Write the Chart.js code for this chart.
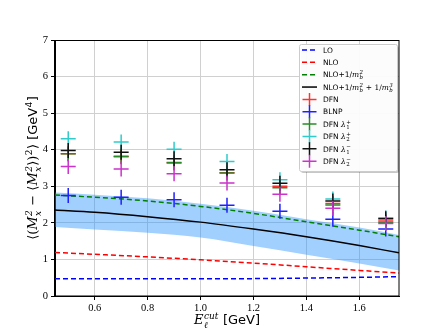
<!DOCTYPE html>
<html>
<head>
<meta charset="utf-8">
<script src="https://cdn.jsdelivr.net/npm/chart.js@4/dist/chart.umd.min.js"></script>
<style>
  html, body { margin: 0; padding: 0; background: #fff; }
  #wrap { width: 444px; height: 333px; }
</style>
</head>
<body>
<div id="wrap"><canvas id="c" width="444" height="333"></canvas></div>
<script>
// ---------------- data ----------------
const xTicks = [0.6, 0.8, 1.0, 1.2, 1.4, 1.6];
const yTicks = [0, 1, 2, 3, 4, 5, 6, 7];

// theory curves (sampled along E_cut)
const curveX = [0.45, 0.6, 0.8, 1.0, 1.2, 1.4, 1.6, 1.75];
const loVals = [0.47, 0.47, 0.47, 0.47, 0.475, 0.49, 0.51, 0.53];
const nloVals = [1.19, 1.14, 1.07, 0.99, 0.90, 0.80, 0.70, 0.63];
const nloMb2Vals = [2.76, 2.70, 2.60, 2.45, 2.26, 2.03, 1.80, 1.62];
const nloMb3Vals = [2.35, 2.29, 2.17, 2.02, 1.83, 1.62, 1.38, 1.18];
const bandUpper = [2.83, 2.77, 2.67, 2.52, 2.33, 2.10, 1.87, 1.67];
const bandLower = [1.89, 1.82, 1.73, 1.60, 1.37, 1.13, 0.89, 0.70];

// model points
const pointX = [0.5, 0.7, 0.9, 1.1, 1.3, 1.5, 1.7];
const dfnVals = [3.89, 3.81, 3.64, 3.37, 3.00, 2.53, 2.05];
const blnpVals = [2.75, 2.70, 2.63, 2.48, 2.32, 2.10, 1.83];
const dfnL1pVals = [3.89, 3.82, 3.65, 3.36, 2.96, 2.49, 2.01];
const dfnL2pVals = [4.30, 4.21, 4.01, 3.68, 3.18, 2.65, 2.14];
const dfnL1mVals = [3.98, 3.93, 3.75, 3.45, 3.08, 2.60, 2.11];
const dfnL2mVals = [3.54, 3.47, 3.34, 3.09, 2.78, 2.40, 1.98];

// ---------------- helpers ----------------
const SERIF = "'DejaVu Serif', 'Liberation Serif', serif";
const TSERIF = "'Liberation Serif', 'DejaVu Serif', serif";
const SANS = "'DejaVu Sans', sans-serif";
const pts = (xs, ys) => xs.map((x, i) => ({ x: x, y: ys[i] }));

function curve(label, ys, color, dash, order) {
  return {
    type: 'line', label: label, data: pts(curveX, ys),
    borderColor: color, borderWidth: 1.5, borderDash: dash,
    pointRadius: 0, fill: false, tension: 0, cubicInterpolationMode: 'monotone',
    order: order, legendKind: 'line'
  };
}
function markers(label, ys, color, order) {
  return {
    type: 'line', label: label, data: pts(pointX, ys), showLine: false,
    borderColor: color, backgroundColor: color,
    pointStyle: 'cross', pointRadius: 7.5, pointHoverRadius: 7.5,
    pointBorderWidth: 1.5, pointBorderColor: color,
    order: order, legendKind: 'cross'
  };
}

function measureRich(ctx, segs) {
  let w = 0;
  for (const s of segs) {
    ctx.font = s.font;
    if (s.t !== undefined) w += ctx.measureText(s.t).width;
    else {
      const a = s.sup ? ctx.measureText(s.sup).width : 0;
      const b = s.sub ? ctx.measureText(s.sub).width : 0;
      w += Math.max(a, b) + 0.8;
    }
  }
  return w;
}
function drawRich(ctx, segs, x, y, size) {
  let cx = x;
  for (const s of segs) {
    ctx.font = s.font;
    if (s.t !== undefined) {
      ctx.fillText(s.t, cx, y); cx += ctx.measureText(s.t).width;
    } else {
      let a = 0, b = 0;
      if (s.sup) { ctx.fillText(s.sup, cx + 0.4, y - size * 0.42); a = ctx.measureText(s.sup).width; }
      if (s.sub) { ctx.fillText(s.sub, cx + 0.4, y + size * 0.27); b = ctx.measureText(s.sub).width; }
      cx += Math.max(a, b) + 0.8;
    }
  }
}

const T = 13;
const sS = 9;
const yTitle = [
  { t: '⟨(', font: `${T}px ${SERIF}` },
  { t: 'M', font: `italic ${T}px ${SERIF}` },
  { sup: '2', sub: 'x', font: `italic ${sS}px ${SERIF}` },
  { t: ' − ⟨', font: `${T}px ${SERIF}` },
  { t: 'M', font: `italic ${T}px ${SERIF}` },
  { sup: '2', sub: 'x', font: `italic ${sS}px ${SERIF}` },
  { t: '⟩)', font: `${T}px ${SERIF}` },
  { sup: '2', font: `${sS}px ${SERIF}` },
  { t: '⟩ [GeV', font: `${T}px ${SANS}` },
  { sup: '4', font: `${sS}px ${SANS}` },
  { t: ']', font: `${T}px ${SANS}` }
];
const xTitle = [
  { t: 'E', font: `italic ${T}px ${SERIF}` },
  { sup: 'cut', sub: 'ℓ', font: `italic ${sS}px ${SERIF}` },
  { t: ' [GeV]', font: `${T}px ${SANS}` }
];

const L = 7.5;
const lS = 5.5;
const legendLabels = {
  'LO': [{ t: 'LO', font: `${L}px ${SANS}` }],
  'NLO': [{ t: 'NLO', font: `${L}px ${SANS}` }],
  'NLO+1/mb2': [{ t: 'NLO+1/', font: `${L}px ${SANS}` }, { t: 'm', font: `italic ${L}px ${SERIF}` }, { sup: '2', sub: 'b', font: `italic ${lS}px ${SERIF}` }],
  'NLO+1/mb2+1/mb3': [{ t: 'NLO+1/', font: `${L}px ${SANS}` }, { t: 'm', font: `italic ${L}px ${SERIF}` }, { sup: '2', sub: 'b', font: `italic ${lS}px ${SERIF}` }, { t: ' + 1/', font: `${L}px ${SERIF}` }, { t: 'm', font: `italic ${L}px ${SERIF}` }, { sup: '3', sub: 'b', font: `italic ${lS}px ${SERIF}` }],
  'DFN': [{ t: 'DFN', font: `${L}px ${SANS}` }],
  'BLNP': [{ t: 'BLNP', font: `${L}px ${SANS}` }],
  'DFN l1+': [{ t: 'DFN ', font: `${L}px ${SANS}` }, { t: 'λ', font: `italic ${L}px ${SERIF}` }, { sup: '+', sub: '1', font: `${lS}px ${SERIF}` }],
  'DFN l2+': [{ t: 'DFN ', font: `${L}px ${SANS}` }, { t: 'λ', font: `italic ${L}px ${SERIF}` }, { sup: '+', sub: '2', font: `${lS}px ${SERIF}` }],
  'DFN l1-': [{ t: 'DFN ', font: `${L}px ${SANS}` }, { t: 'λ', font: `italic ${L}px ${SERIF}` }, { sup: '−', sub: '1', font: `${lS}px ${SERIF}` }],
  'DFN l2-': [{ t: 'DFN ', font: `${L}px ${SANS}` }, { t: 'λ', font: `italic ${L}px ${SERIF}` }, { sup: '−', sub: '2', font: `${lS}px ${SERIF}` }]
};

const decor = {
  id: 'decor',
  afterDraw(chart) {
    const ctx = chart.ctx, a = chart.chartArea;
    ctx.save();
    ctx.strokeStyle = '#000'; ctx.lineWidth = 1;
    ctx.strokeRect(Math.round(a.left) - 0.5, Math.round(a.top) + 0.5, Math.round(a.right - a.left) + 0.5, Math.round(a.bottom - a.top) - 0.5);

    ctx.fillStyle = '#000'; ctx.textBaseline = 'alphabetic';
    const wx = measureRich(ctx, xTitle);
    drawRich(ctx, xTitle, 227 - wx / 2, 324, T);
    ctx.save();
    ctx.translate(37, (a.top + a.bottom) / 2);
    ctx.rotate(-Math.PI / 2);
    const wy = measureRich(ctx, yTitle);
    drawRich(ctx, yTitle, -wy / 2, 0, T);
    ctx.restore();

    const bx = 299, by = 44, bw = 98, bh = 127;
    ctx.fillStyle = 'rgba(0,0,0,0.22)';
    ctx.beginPath(); ctx.roundRect(bx + 2, by + 2, bw, bh, 2); ctx.fill();
    ctx.fillStyle = 'rgba(255,255,255,0.94)';
    ctx.strokeStyle = '#cccccc'; ctx.lineWidth = 1;
    ctx.beginPath(); ctx.roundRect(bx + 0.5, by + 0.5, bw, bh, 2); ctx.fill(); ctx.stroke();

    const order = ['LO', 'NLO', 'NLO+1/mb2', 'NLO+1/mb2+1/mb3', 'DFN', 'BLNP', 'DFN l1+', 'DFN l2+', 'DFN l1-', 'DFN l2-'];
    order.forEach((lab, i) => {
      const ds = chart.data.datasets.find(d => d.label === lab);
      const y = 50 + i * 12.35;
      ctx.strokeStyle = ds.borderColor; ctx.lineWidth = 1.5;
      ctx.setLineDash(ds.legendKind === 'line' ? (ds.borderDash || []) : []);
      ctx.beginPath();
      if (ds.legendKind === 'line') {
        ctx.moveTo(302, y); ctx.lineTo(317, y);
      } else {
        ctx.moveTo(302.5, y); ctx.lineTo(316.5, y);
        ctx.moveTo(309.5, y - 6.5); ctx.lineTo(309.5, y + 6.5);
      }
      ctx.stroke();
      ctx.setLineDash([]);
      ctx.fillStyle = '#000';
      drawRich(ctx, legendLabels[lab], 323, y + 2.7, L);
    });
    ctx.restore();
  }
};

const datasets = [
  { type: 'line', label: 'bandLower', data: pts(curveX, bandLower), borderColor: 'rgba(0,0,0,0)', borderWidth: 0,
    pointRadius: 0, fill: false, cubicInterpolationMode: 'monotone', order: 31 },
  { type: 'line', label: 'bandUpper', data: pts(curveX, bandUpper), borderColor: 'rgba(0,0,0,0)', borderWidth: 0,
    pointRadius: 0, fill: { target: 0 }, backgroundColor: 'rgba(30,144,255,0.42)', cubicInterpolationMode: 'monotone', order: 30 },
  curve('LO', loVals, '#0000ff', [5, 3], 24),
  curve('NLO', nloVals, '#ff0000', [5, 3], 23),
  curve('NLO+1/mb2', nloMb2Vals, '#008000', [5, 3], 22),
  curve('NLO+1/mb2+1/mb3', nloMb3Vals, '#000000', [], 21),
  markers('DFN', dfnVals, '#ff3030', 16),
  markers('BLNP', blnpVals, '#2020ff', 15),
  markers('DFN l1+', dfnL1pVals, '#2a8a2a', 14),
  markers('DFN l2+', dfnL2pVals, '#30cccc', 13),
  markers('DFN l1-', dfnL1mVals, '#111111', 12),
  markers('DFN l2-', dfnL2mVals, '#cc33cc', 11)
];

new Chart(document.getElementById('c'), {
  type: 'line',
  data: { datasets: datasets },
  options: {
    responsive: false, animation: false, events: [],
    layout: { padding: { top: 40, right: 45, left: 0, bottom: 0 } },
    plugins: { legend: { display: false }, tooltip: { enabled: false }, title: { display: false } },
    scales: {
      x: {
        type: 'linear', min: 0.45, max: 1.75,
        afterBuildTicks: s => { s.ticks = xTicks.map(v => ({ value: v })); },
        afterFit: s => { s.height = 37; },
        ticks: { color: '#000', font: { family: TSERIF, size: 10.5 }, padding: 2, callback: v => Number(v).toFixed(1) },
        grid: { color: '#d0d0d0', lineWidth: 1, tickColor: '#000', tickLength: 4, drawTicks: true },
        border: { display: true, color: '#000', width: 1 },
        title: { display: false }
      },
      y: {
        type: 'linear', min: 0, max: 7,
        afterBuildTicks: s => { s.ticks = yTicks.map(v => ({ value: v })); },
        afterFit: s => { s.width = 55; },
        ticks: { color: '#000', font: { family: TSERIF, size: 10.5 }, padding: 3, callback: v => String(v) },
        grid: { color: '#d0d0d0', lineWidth: 1, tickColor: '#000', tickLength: 4, drawTicks: true },
        border: { display: true, color: '#000', width: 1 },
        title: { display: false }
      }
    }
  },
  plugins: [decor]
});
</script>
</body>
</html>
